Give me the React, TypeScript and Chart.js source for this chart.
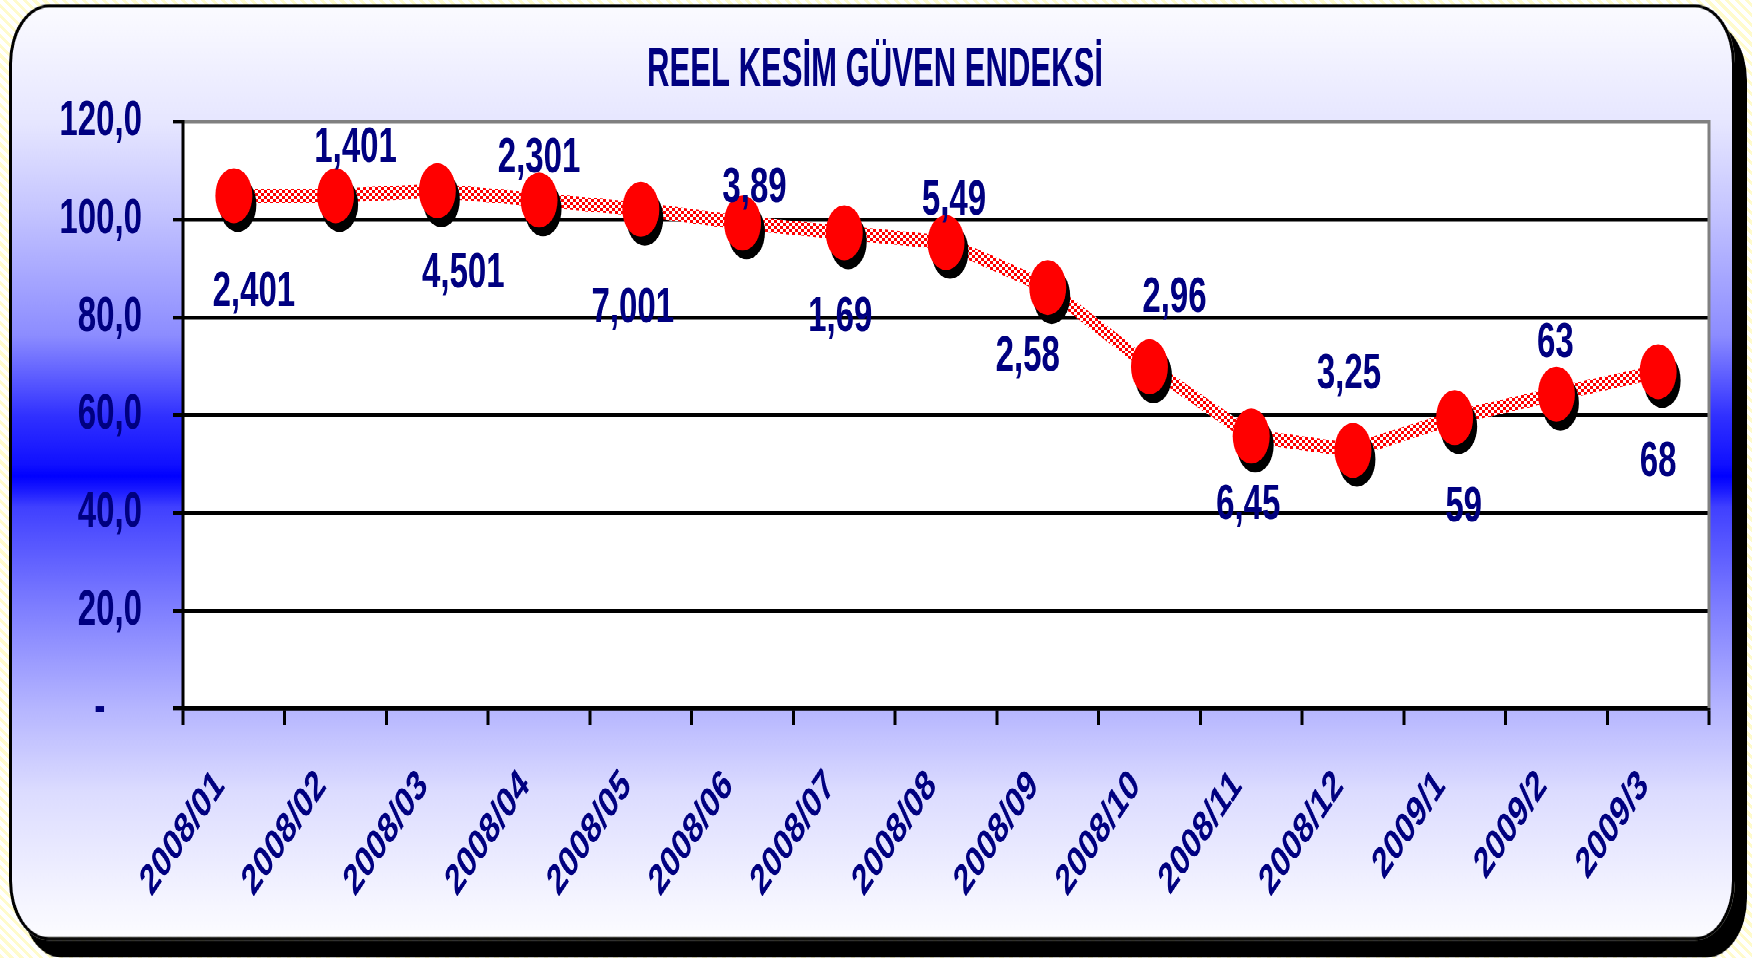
import React, { useEffect, useRef } from "react";
import { Chart, registerables } from "chart.js";

Chart.register(...registerables);

// ---- data ----
const categories = [
  "2008/01", "2008/02", "2008/03", "2008/04", "2008/05", "2008/06", "2008/07", "2008/08",
  "2008/09", "2008/10", "2008/11", "2008/12", "2009/1", "2009/2", "2009/3",
];
const indexValues = [104.9, 104.9, 105.9, 104.0, 102.1, 99.3, 97.3, 95.3, 86.1, 69.9, 55.7, 52.8, 59.5, 64.3, 68.9];
const pointLabels = ["2,401", "1,401", "4,501", "2,301", "7,001", "3,89", "1,69", "5,49", "2,58", "2,96", "6,45", "3,25", "59", "63", "68"];
const yTickLabels = ["-", "20,0", "40,0", "60,0", "80,0", "100,0", "120,0"];
const chartTitle = "REEL KESİM GÜVEN ENDEKSİ";

// ---- label placement (style) ----
const labelDx = [20, 20, 26, 0, -8, 12, -4, 8, -20, 25, -3, -4, 9, -1, 0];
const labelDy = [65, -32, 56, -28, 67, -23, 57, -28, 47, -46, 47, -51, 61, -34, 61];

// ---- layout (unstretched space) ----
const W = 1752;
const H = 645;
const K = 958 / H;
const PLOT_RIGHT = 1709;
const PLOT_LEFT = 183;
const PLOT_TOP = 82;
const PLOT_BOTTOM = 477;
const TITLE_X = 875;
const TITLE_Y = 48;
const NAVY = "#000080";
const FONT = '"Liberation Sans", Arial, Helvetica, sans-serif';

function makePattern(): CanvasPattern | string {
  const c = document.createElement("canvas");
  c.width = 6;
  c.height = 4;
  const g = c.getContext("2d");
  if (!g) return "#ff0000";
  g.fillStyle = "#ffffff";
  g.fillRect(0, 0, 6, 4);
  g.fillStyle = "#ff0000";
  g.fillRect(0, 0, 3, 2);
  g.fillRect(3, 2, 3, 2);
  const p = g.createPattern(c, "repeat");
  return p || "#ff0000";
}

const plotBgPlugin = {
  id: "plotBg",
  beforeDraw(chart: any) {
    const { ctx, chartArea: a } = chart;
    ctx.save();
    ctx.fillStyle = "#ffffff";
    ctx.fillRect(a.left, a.top, a.right - a.left, a.bottom - a.top);
    ctx.restore();
  },
  afterDraw(chart: any) {
    const { ctx, chartArea: a } = chart;
    ctx.save();
    ctx.strokeStyle = "#808080";
    ctx.lineWidth = 3;
    ctx.beginPath();
    ctx.moveTo(a.right, a.top - 1);
    ctx.lineTo(a.right, a.bottom);
    ctx.stroke();
    ctx.restore();
  },
};

const titlePlugin = {
  id: "narrowTitle",
  afterDraw(chart: any) {
    const { ctx } = chart;
    ctx.save();
    ctx.translate(TITLE_X, TITLE_Y);
    ctx.scale(0.84, 1);
    ctx.font = `bold 37px ${FONT}`;
    ctx.fillStyle = NAVY;
    ctx.textAlign = "center";
    ctx.textBaseline = "middle";
    ctx.fillText(chartTitle, 0, 0);
    ctx.restore();
  },
};

const linePlugin = {
  id: "crispPattern",
  beforeDatasetDraw(chart: any, args: any) {
    if (args.index !== 0) return;
    chart.ctx.save();
    chart.ctx.imageSmoothingEnabled = false;
  },
  afterDatasetDraw(chart: any, args: any) {
    if (args.index !== 0) return;
    chart.ctx.restore();
  },
};

const shadowPlugin = {
  id: "markerShadow",
  beforeDatasetDraw(chart: any, args: any) {
    if (args.index !== 1) return;
    const r = chart.currentDevicePixelRatio || 1;
    const ctx = chart.ctx;
    ctx.save();
    ctx.shadowColor = "#000000";
    ctx.shadowBlur = 0;
    ctx.shadowOffsetX = 4 * r;
    ctx.shadowOffsetY = 6 * r;
  },
  afterDatasetDraw(chart: any, args: any) {
    if (args.index !== 1) return;
    chart.ctx.restore();
  },
};

const labelPlugin = {
  id: "pointLabels",
  afterDatasetsDraw(chart: any) {
    const { ctx } = chart;
    const meta = chart.getDatasetMeta(1);
    ctx.save();
    ctx.font = `bold 33px ${FONT}`;
    ctx.fillStyle = NAVY;
    ctx.textAlign = "center";
    ctx.textBaseline = "middle";
    meta.data.forEach((pt: any, i: number) => {
      ctx.fillText(pointLabels[i], pt.x + labelDx[i], pt.y + labelDy[i]);
    });
    ctx.restore();
  },
};

export default function App() {
  const canvasRef = useRef<HTMLCanvasElement | null>(null);

  useEffect(() => {
    const canvas = canvasRef.current;
    if (!canvas) return;
    const chart = new Chart(canvas, {
      type: "line",
      data: {
        labels: categories,
        datasets: [
          {
            data: indexValues,
            borderColor: makePattern() as any,
            borderWidth: 9.5,
            pointRadius: 0,
            tension: 0,
            fill: false,
            order: 2,
          },
          {
            data: indexValues,
            showLine: false,
            pointStyle: "circle",
            pointRadius: 18.5,
            pointBackgroundColor: "#ff0000",
            pointBorderWidth: 0,
            pointBorderColor: "#ff0000",
            order: 1,
          },
        ],
      },
      options: {
        responsive: false,
        animation: false,
        devicePixelRatio: 2,
        events: [],
        layout: { padding: { left: 0, right: W - PLOT_RIGHT, top: PLOT_TOP, bottom: 0 } },
        plugins: {
          legend: { display: false },
          tooltip: { enabled: false },
          title: { display: false },
        },
        scales: {
          x: {
            offset: true,
            grid: {
              display: true,
              drawOnChartArea: false,
              offset: true,
              drawTicks: true,
              tickLength: 11,
              color: "#000000",
              lineWidth: 3,
            },
            border: { display: true, color: "#000000", width: 2.7 },
            ticks: {
              autoSkip: false,
              maxRotation: 45,
              minRotation: 45,
              labelOffset: -14,
              padding: 24,
              color: NAVY,
              font: { family: FONT, size: 29, weight: "bold" },
            },
            afterFit: (s: any) => {
              s.height = H - PLOT_BOTTOM;
            },
          },
          y: {
            min: 0,
            max: 120,
            ticks: {
              stepSize: 20,
              padding: 31,
              color: NAVY,
              font: { family: FONT, size: 33, weight: "bold" },
              callback: (_v: any, i: number) => {
                const t = yTickLabels[i];
                return t === "-" ? "-    " : t;
              },
            },
            grid: {
              color: (c: any) => (c.tick && c.tick.value === 120 ? "#808080" : "#000000"),
              tickColor: "#000000",
              lineWidth: 2.7,
              tickLength: 10,
              drawTicks: true,
            },
            border: { display: true, color: "#000000", width: 3 },
            afterFit: (s: any) => {
              s.width = PLOT_LEFT;
            },
          },
        },
      },
      plugins: [plotBgPlugin, linePlugin, shadowPlugin, labelPlugin, titlePlugin],
    } as any);
    return () => chart.destroy();
  }, []);

  const gradient =
    "linear-gradient(to bottom, #fbfbff 0%, #e6e6ff 12.5%, #c4c4ff 22%, #8c8cff 35.3%, #3030ff 44%, #1010ff 49.2%, #0000ff 50.4%, #1818ff 51.8%, #4040ff 53.7%, #7878ff 63.4%, #b4b4ff 75.1%, #dcdcff 84.4%, #f4f4ff 95.6%, #fcfcff 100%)";

  return (
    <div
      style={{
        position: "fixed",
        left: 0,
        top: 0,
        width: W,
        height: 958,
        overflow: "hidden",
        background:
          "repeating-linear-gradient(45deg, #fffbcc 0px, #fffbcc 3px, #ffffff 3px, #ffffff 7px)",
      }}
    >
      <div
        style={{
          position: "absolute",
          left: 0,
          top: 0,
          width: W,
          height: H,
          transform: `scaleY(${K})`,
          transformOrigin: "0 0",
        }}
      >
        <div
          style={{
            position: "absolute",
            left: 9,
            top: 3,
            width: 1735 - 9,
            height: 633 - 3,
            boxSizing: "border-box",
            borderStyle: "solid",
            borderColor: "#000",
            borderWidth: "2px 3px 2px 3px",
            borderRadius: 40,
            background: gradient,
            boxShadow: "12px 11.5px 0 0 #000",
          }}
        />
        <canvas
          ref={canvasRef}
          width={W}
          height={H}
          style={{ position: "absolute", left: 0, top: 0, width: W, height: H }}
        />
      </div>
    </div>
  );
}
